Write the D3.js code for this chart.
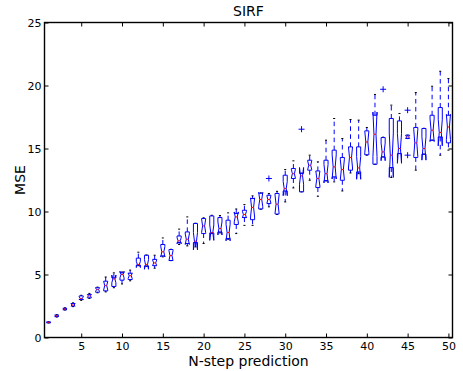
<!DOCTYPE html>
<html>
<head>
<meta charset="utf-8">
<script src="https://cdn.jsdelivr.net/npm/d3@7/dist/d3.min.js"></script>
<style>
	body { margin: 0; background: #fff; }
	text { font-family: 'DejaVu Sans', sans-serif; fill: #000; }
</style>
</head>
<body>
<svg id="chart" width="463" height="371"></svg>
<script>

// Boxplot stats per prediction step.
var steps = d3.range( 1, 51 );
var whiskerLow = [ 1.15, 1.62, 2.18, 2.45, 2.95, 3.1, 3.55, 3.62, 3.95, 4.25,
	4.5, 5.7, 5.65, 5.5, 6.4, 6.1, 7.38, 7.27, 7.19, 7.46,
	8.25, 8.3, 7.8, 8.25, 8.9, 8.9, 10.18, 10.37, 9.76, 10.76,
	11.87, 11.56, 12.48, 11.21, 12.43, 12.35, 11.63, 13.06, 13.0, 14.47,
	13.75, 14.33, 12.7, 14.6, 15.79, 13.28, 14.55, 15.66, 14.47, 14.87 ];
var q1 = [ 1.17, 1.66, 2.2, 2.5, 3.02, 3.15, 3.6, 3.7, 4.05, 4.55,
	4.6, 5.75, 5.68, 5.7, 6.48, 6.11, 7.54, 7.46, 7.54, 8.25,
	8.3, 8.38, 7.86, 8.97, 9.52, 9.35, 10.2, 10.63, 9.8, 11.63,
	12.62, 11.56, 13.28, 11.9, 12.45, 12.75, 12.48, 13.28, 13.14, 14.5,
	13.75, 14.33, 13.49, 14.6, 15.79, 14.29, 14.55, 15.66, 15.92, 15.45 ];
var median = [ 1.2, 1.72, 2.25, 2.58, 3.1, 3.3, 3.8, 4.12, 4.65, 5.0,
	4.9, 5.8, 5.8, 5.92, 6.8, 6.5, 7.67, 7.8, 7.64, 8.86,
	8.32, 8.65, 8.33, 9.57, 9.76, 10.32, 10.95, 10.95, 10.58, 11.82,
	13.0, 12.83, 13.67, 12.62, 13.0, 13.54, 13.33, 14.29, 13.46, 15.52,
	16.13, 14.73, 14.47, 15.0, 15.92, 15.45, 15.0, 16.45, 16.27, 16.71 ];
var q3 = [ 1.23, 1.78, 2.32, 2.7, 3.3, 3.42, 3.95, 4.47, 4.73, 5.13,
	5.1, 6.3, 6.53, 6.2, 7.38, 6.98, 8.06, 8.38, 9.05, 9.44,
	9.65, 9.52, 9.31, 9.84, 10.1, 11.03, 11.45, 11.29, 11.43, 12.88,
	13.41, 13.02, 14.07, 13.22, 14.07, 14.87, 14.29, 15.13, 15.13, 16.4,
	17.64, 15.87, 17.38, 17.19, 16.06, 16.67, 16.59, 17.64, 18.25, 17.64 ];
var whiskerHigh = [ 1.25, 1.82, 2.36, 2.75, 3.35, 3.5, 4.0, 4.8, 5.13, 5.2,
	5.35, 6.77, 6.55, 6.53, 7.9, 7.0, 8.6, 9.57, 9.07, 9.5,
	9.7, 9.68, 9.89, 10.2, 10.55, 11.24, 11.48, 11.43, 11.6, 13.33,
	14.02, 13.05, 14.47, 13.94, 15.66, 17.38, 15.79, 17.3, 17.25, 16.67,
	19.29, 15.9, 18.44, 17.78, 16.06, 19.44, 16.6, 19.94, 21.13, 20.55 ];
// [ step, value ]
var outliers = [ [ 28, 12.62 ], [ 32, 16.53 ], [ 42, 19.7 ], [ 45, 18.04 ], [ 45, 14.47 ] ];

var xTicks = [ 5, 10, 15, 20, 25, 30, 35, 40, 45, 50 ];
var yTicks = [ 0, 5, 10, 15, 20, 25 ];

var boxWidth = 0.5;
var notchN = 12;

var svg = d3.select( '#chart' );

var x = d3.scaleLinear().domain( [ 0.5, 50.5 ] ).range( [ 44.5, 452.5 ] );
var y = d3.scaleLinear().domain( [ 0, 25 ] ).range( [ 337.5, 22.5 ] );

var boxes = steps.map( function ( s, i ) {
	var iqr = q3[i] - q1[i];
	var ci = 1.57 * iqr / Math.sqrt( notchN );
	return {
		pos: s,
		lo: whiskerLow[i],
		q1: q1[i],
		med: median[i],
		q3: q3[i],
		hi: whiskerHigh[i],
		cilo: median[i] - ci,
		cihi: median[i] + ci
	};
} );

var plot = svg.append( 'g' ).attr( 'class', 'boxes' );

// Whiskers, dashed.
boxes.forEach( function ( d ) {
	[ [ d.q1, d.lo ], [ d.q3, d.hi ] ].forEach( function ( w ) {
		plot.append( 'line' )
			.attr( 'x1', x( d.pos ) ).attr( 'x2', x( d.pos ) )
			.attr( 'y1', y( w[0] ) ).attr( 'y2', y( w[1] ) )
			.style( 'stroke', '#0000ff' )
			.style( 'stroke-width', 1 )
			.style( 'stroke-dasharray', '4.5,3.5' );
	} );
} );

// Caps.
boxes.forEach( function ( d ) {
	[ d.lo, d.hi ].forEach( function ( v ) {
		plot.append( 'line' )
			.attr( 'x1', x( d.pos - boxWidth * 0.25 ) ).attr( 'x2', x( d.pos + boxWidth * 0.25 ) )
			.attr( 'y1', y( v ) ).attr( 'y2', y( v ) )
			.style( 'stroke', '#000' )
			.style( 'stroke-width', 1 );
	} );
} );

// Notched boxes.
boxes.forEach( function ( d ) {
	var left = d.pos - boxWidth * 0.5;
	var right = d.pos + boxWidth * 0.5;
	var nLeft = d.pos - boxWidth * 0.25;
	var nRight = d.pos + boxWidth * 0.25;
	var pts = [
		[ left, d.q1 ], [ right, d.q1 ], [ right, d.cilo ], [ nRight, d.med ],
		[ right, d.cihi ], [ right, d.q3 ], [ left, d.q3 ], [ left, d.cihi ],
		[ nLeft, d.med ], [ left, d.cilo ], [ left, d.q1 ]
	];
	plot.append( 'path' )
		.attr( 'd', d3.line().x( function ( p ) { return x( p[0] ); } ).y( function ( p ) { return y( p[1] ); } )( pts ) )
		.style( 'fill', 'none' )
		.style( 'stroke', '#0000ff' )
		.style( 'stroke-width', 1 );
	plot.append( 'line' )
		.attr( 'x1', x( nLeft ) ).attr( 'x2', x( nRight ) )
		.attr( 'y1', y( d.med ) ).attr( 'y2', y( d.med ) )
		.style( 'stroke', '#ff0000' )
		.style( 'stroke-width', 1 );
} );

// Fliers.
plot.selectAll( '.flier' )
	.data( outliers )
	.enter()
	.append( 'path' )
	.attr( 'class', 'flier' )
	.attr( 'd', function ( d ) {
		var cx = x( d[0] ), cy = y( d[1] );
		return 'M' + ( cx - 3 ) + ',' + cy + 'H' + ( cx + 3 ) + 'M' + cx + ',' + ( cy - 3 ) + 'V' + ( cy + 3 );
	} )
	.style( 'stroke', '#0000ff' )
	.style( 'stroke-width', 1 );

// Axes with inward ticks on all four sides.
function styleAxis( g ) {
	g.select( '.domain' ).remove();
	g.selectAll( '.tick line' ).style( 'stroke', '#000' );
	g.selectAll( '.tick text' )
		.style( 'font-family', "'DejaVu Sans', sans-serif" )
		.style( 'font-size', '11px' )
		.style( 'fill', '#000' );
}

svg.append( 'g' )
	.attr( 'transform', 'translate(0,' + y( 0 ) + ')' )
	.call( d3.axisBottom( x ).tickValues( xTicks ).tickSizeInner( -4 ).tickSizeOuter( 0 ).tickPadding( 5 ) )
	.call( styleAxis );
svg.append( 'g' )
	.attr( 'transform', 'translate(0,' + y( 25 ) + ')' )
	.call( d3.axisTop( x ).tickValues( xTicks ).tickSizeInner( -4 ).tickSizeOuter( 0 ).tickFormat( '' ) )
	.call( styleAxis );
svg.append( 'g' )
	.attr( 'transform', 'translate(' + x( 0.5 ) + ',0)' )
	.call( d3.axisLeft( y ).tickValues( yTicks ).tickSizeInner( -4 ).tickSizeOuter( 0 ).tickPadding( 3 ) )
	.call( styleAxis );
svg.append( 'g' )
	.attr( 'transform', 'translate(' + x( 50.5 ) + ',0)' )
	.call( d3.axisRight( y ).tickValues( yTicks ).tickSizeInner( -4 ).tickSizeOuter( 0 ).tickFormat( '' ) )
	.call( styleAxis );

// Frame.
svg.append( 'rect' )
	.attr( 'x', x( 0.5 ) )
	.attr( 'y', y( 25 ) )
	.attr( 'width', x( 50.5 ) - x( 0.5 ) )
	.attr( 'height', y( 0 ) - y( 25 ) )
	.style( 'fill', 'none' )
	.style( 'stroke', '#000' )
	.style( 'stroke-width', 1.4 );

// Titles.
svg.append( 'text' )
	.attr( 'x', ( x( 0.5 ) + x( 50.5 ) ) / 2 )
	.attr( 'y', 16 )
	.attr( 'text-anchor', 'middle' )
	.style( 'font-size', '14px' )
	.text( 'SIRF' );
svg.append( 'text' )
	.attr( 'x', ( x( 0.5 ) + x( 50.5 ) ) / 2 )
	.attr( 'y', 366 )
	.attr( 'text-anchor', 'middle' )
	.style( 'font-size', '14px' )
	.text( 'N-step prediction' );
svg.append( 'text' )
	.attr( 'transform', 'translate(25,' + ( ( y( 0 ) + y( 25 ) ) / 2 ) + ') rotate(-90)' )
	.attr( 'text-anchor', 'middle' )
	.style( 'font-size', '14px' )
	.text( 'MSE' );

</script>
</body>
</html>
